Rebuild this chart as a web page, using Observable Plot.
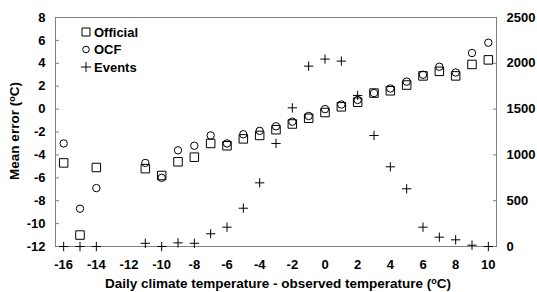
<!DOCTYPE html>
<html><head><meta charset="utf-8">
<script src="https://cdn.jsdelivr.net/npm/d3@7"></script>
<script src="https://cdn.jsdelivr.net/npm/@observablehq/plot@0.6"></script>
<style>
body{margin:0;background:#fff}
#chart svg{font-family:"Liberation Sans",Arial,sans-serif;font-weight:bold}
</style>
</head><body><div id="chart"></div>
<script>
const temps    = [-16,-15,-14,-11,-10,-9,-8,-7,-6,-5,-4,-3,-2,-1,0,1,2,3,4,5,6,7,8,9,10];
const official = [-4.7,-11.0,-5.1,-5.2,-5.8,-4.6,-4.2,-3.0,-3.2,-2.6,-2.3,-1.8,-1.3,-0.8,-0.3,0.2,0.6,1.4,1.6,2.1,2.9,3.3,2.9,3.9,4.3];
const ocf      = [-3.0,-8.7,-6.9,-4.7,-6.0,-3.6,-3.2,-2.3,-3.0,-2.2,-1.9,-1.5,-1.1,-0.6,0.0,0.4,0.8,1.4,1.8,2.4,3.0,3.7,3.2,4.9,5.8];
const events   = [0,0,0,35,0,40,35,139,211,418,695,1125,1514,1969,2046,2024,1649,1212,870,630,211,102,73,14,0];
const xTicks = [-16,-14,-12,-10,-8,-6,-4,-2,0,2,4,6,8,10];
const yTicks = [-12,-10,-8,-6,-4,-2,0,2,4,6,8];
const rightTicks = [0,500,1000,1500,2000,2500];
const legendLabels = ["Official","OCF","Events"];
const legendSymbols = ["square","circle","plus"];

const rows = temps.map((t,i)=>({t, official:official[i], ocf:ocf[i], events:events[i]}));
// events share the left scale: 0..2500 -> -12..8
const toLeft = v => -12 + v * 20 / 2500;
const fromLeft = y => String(Math.round((y + 12) * 2500 / 20));

const grey = "#808080";
const font = '"Liberation Sans",Arial,sans-serif';
const chart = Plot.plot({
  width: 537, height: 292,
  marginLeft: 55, marginRight: 41, marginTop: 17, marginBottom: 46,
  style: {fontFamily: font, fontSize: "13px", fontWeight: "bold", color: "black", background: "white"},
  x: {domain: [-16.5, 10.5], label: null},
  y: {domain: [-12, 8], label: null},
  marks: [
    Plot.frame({stroke: grey}),
    Plot.axisX({ticks: xTicks, tickFormat: d => String(d), tickSize: 0, tickPadding: 13, label: null, fill: "black"}),
    Plot.axisY({anchor: "left", ticks: yTicks, tickSize: 4, insetLeft: 4, stroke: grey, fill: "none", label: null}),
    Plot.axisY({anchor: "left", ticks: yTicks, tickFormat: d => String(d), tickSize: 0, tickPadding: 10, fill: "black", label: null}),
    Plot.axisY({anchor: "right", ticks: rightTicks.map(toLeft), tickSize: 4, insetRight: 4, stroke: grey, fill: "none", label: null}),
    Plot.axisY({anchor: "right", ticks: rightTicks.map(toLeft), tickFormat: fromLeft, tickSize: 0, tickPadding: 10, fill: "black", label: null}),
    Plot.dot(rows, {x: "t", y: d => toLeft(d.events), symbol: "plus", r: 3.1, stroke: "black", strokeWidth: 1}),
    Plot.dot(rows, {x: "t", y: "official", symbol: "square", r: 4.8, stroke: "black", strokeWidth: 1, fill: "none"}),
    Plot.dot(rows, {x: "t", y: "ocf", symbol: "circle", r: 3.7, stroke: "black", strokeWidth: 1, fill: "none"})
  ]
});
document.getElementById("chart").appendChild(chart);

const svg = d3.select(chart);
// axis titles with superscript o
const xl = svg.append("text").attr("x", 278).attr("y", 288).attr("text-anchor", "middle")
  .attr("font-size", 13.5).attr("font-weight", "bold").attr("fill", "black");
xl.append("tspan").text("Daily climate temperature - observed temperature (");
xl.append("tspan").attr("font-size", 9).attr("dy", -4.5).text("o");
xl.append("tspan").attr("dy", 4.5).text("C)");

const yl = svg.append("text").attr("transform", "translate(19,131) rotate(-90)").attr("text-anchor", "middle")
  .attr("font-size", 13.5).attr("font-weight", "bold").attr("fill", "black");
yl.append("tspan").text("Mean error (");
yl.append("tspan").attr("font-size", 9).attr("dy", -4.5).text("o");
yl.append("tspan").attr("dy", 4.5).text("C)");

// legend
const lg = svg.append("g");
const legendSize = {square: 64, circle: 3.3 * 3.3 * Math.PI, plus: 36};
const legendShape = {square: d3.symbolSquare, circle: d3.symbolCircle, plus: d3.symbolPlus};
legendLabels.forEach((label, i) => {
  const y = 32 + i * 17.5;
  const s = legendSymbols[i];
  lg.append("path").attr("d", d3.symbol(legendShape[s], legendSize[s])()).attr("transform", `translate(86,${y})`)
    .attr("fill", "none").attr("stroke", "black").attr("stroke-width", 1);
  lg.append("text").attr("x", 94).attr("y", y).attr("dy", "0.36em").attr("font-size", 13)
    .attr("text-anchor", "start").attr("font-weight", "bold").attr("fill", "black").text(label);
});
</script>
</body></html>
